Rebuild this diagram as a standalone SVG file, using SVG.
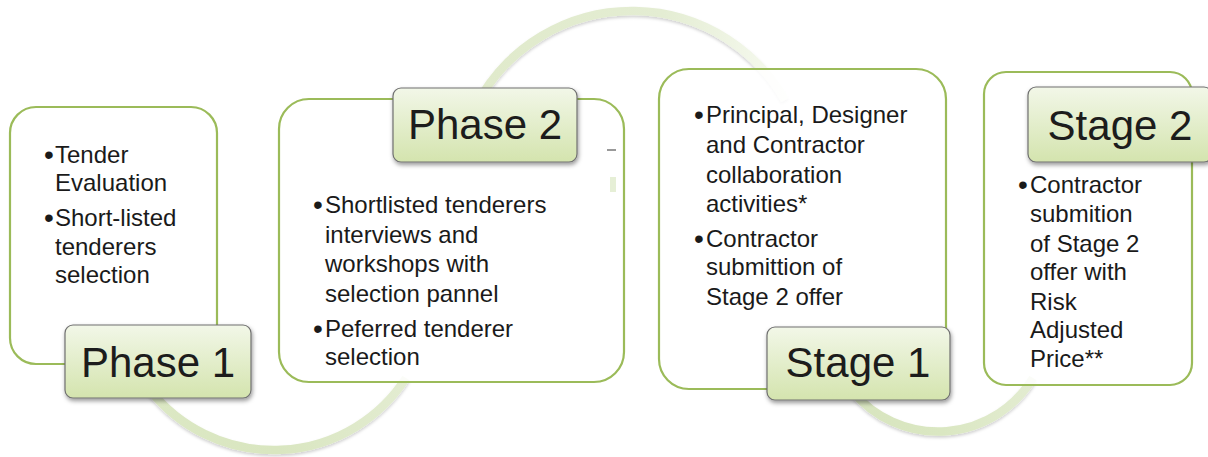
<svg xmlns="http://www.w3.org/2000/svg" width="1208" height="457" viewBox="0 0 1208 457">
<style>
.box{fill:#ffffff;fill-opacity:0.85;stroke:#9BBB59;stroke-width:2.2}
.lbl{fill:url(#lblGrad);stroke:#707070;stroke-width:1.2;filter:url(#sh)}
.head{font-family:"Liberation Sans",Arial,sans-serif;font-size:42px;fill:#1c1c1c;text-anchor:middle}
.body{font-family:"Liberation Sans",Arial,sans-serif;font-size:24px;fill:#1a1a1a}
.bul{font-family:"Liberation Sans",Arial,sans-serif;font-size:28px;fill:#1a1a1a}
.arc{fill:none;stroke-width:8.5;stroke-linecap:butt;filter:url(#ash)}
</style>
<defs>
<linearGradient id="lblGrad" x1="0" y1="0" x2="0" y2="1">
<stop offset="0" stop-color="#F2F7E8"/>
<stop offset="1" stop-color="#D4E4AE"/>
</linearGradient>
<linearGradient id="g1" gradientUnits="userSpaceOnUse" x1="150" y1="0" x2="406" y2="0">
<stop offset="0" stop-color="#DCE8C4"/>
<stop offset="0.5" stop-color="#D9E6C0"/>
<stop offset="1" stop-color="#E3ECD1"/>
</linearGradient>
<linearGradient id="g2" gradientUnits="userSpaceOnUse" x1="482" y1="0" x2="785" y2="0">
<stop offset="0" stop-color="#E0EACB"/>
<stop offset="0.6" stop-color="#E4EDD3"/>
<stop offset="1" stop-color="#F7FAF1"/>
</linearGradient>
<linearGradient id="g3" gradientUnits="userSpaceOnUse" x1="853" y1="0" x2="1033" y2="0">
<stop offset="0" stop-color="#D8E5BF"/>
<stop offset="0.5" stop-color="#DAE7C2"/>
<stop offset="1" stop-color="#E3ECD1"/>
</linearGradient>
<filter id="sh" x="-10%" y="-10%" width="125%" height="135%">
<feDropShadow dx="1" dy="2.5" stdDeviation="2" flood-color="#000" flood-opacity="0.4"/>
</filter>
<filter id="ash" x="-10%" y="-10%" width="120%" height="130%">
<feDropShadow dx="0" dy="2" stdDeviation="1.5" flood-color="#000" flood-opacity="0.18"/>
</filter>
</defs>

<g id="connectors">
<path class="arc" stroke="url(#g1)" d="M150,390 A157.5,157.5 0 0 0 406,378"/>
<path class="arc" stroke="url(#g2)" d="M482,95 A176,176 0 0 1 785,100"/>
<path class="arc" stroke="url(#g3)" d="M853,392 A111,111 0 0 0 1033,378"/>
</g>

<g id="box1">
<rect class="box" x="10" y="107" width="207" height="257" rx="26"/>
<text class="bul" x="44" y="164">•</text><text class="body" x="55" y="163">Tender</text>
<text class="body" x="55" y="191">Evaluation</text>
<text class="bul" x="44" y="227">•</text><text class="body" x="55" y="226">Short-listed</text>
<text class="body" x="55" y="255">tenderers</text>
<text class="body" x="55" y="283">selection</text>
</g>

<g id="box2">
<rect class="box" x="279" y="99" width="345" height="283" rx="30"/>
<text class="bul" x="313" y="214">•</text><text class="body" x="325" y="213">Shortlisted tenderers</text>
<text class="body" x="325" y="243">interviews and</text>
<text class="body" x="325" y="272">workshops with</text>
<text class="body" x="325" y="302">selection pannel</text>
<text class="bul" x="313" y="338">•</text><text class="body" x="325" y="337">Peferred tenderer</text>
<text class="body" x="325" y="365">selection</text>
<line x1="607" y1="150" x2="616" y2="150" stroke="#555" stroke-width="1.2"/>
<rect x="610" y="177" width="6" height="15" fill="#E6EFD6"/>
</g>

<g id="box3">
<rect class="box" x="659" y="69" width="287" height="320" rx="30"/>
<text class="bul" x="694" y="124">•</text><text class="body" x="706" y="123">Principal, Designer</text>
<text class="body" x="706" y="153">and Contractor</text>
<text class="body" x="706" y="183">collaboration</text>
<text class="body" x="706" y="212">activities*</text>
<text class="bul" x="694" y="248">•</text><text class="body" x="706" y="247">Contractor</text>
<text class="body" x="706" y="275">submittion of</text>
<text class="body" x="706" y="305">Stage 2 offer</text>
</g>

<g id="box4">
<rect class="box" x="984" y="72" width="208" height="313" rx="22"/>
<text class="bul" x="1018" y="194">•</text><text class="body" x="1030" y="193">Contractor</text>
<text class="body" x="1030" y="222">submition</text>
<text class="body" x="1030" y="252">of Stage 2</text>
<text class="body" x="1030" y="280">offer with</text>
<text class="body" x="1030" y="310">Risk</text>
<text class="body" x="1030" y="338">Adjusted</text>
<text class="body" x="1030" y="367">Price**</text>
</g>

<g id="phase1">
<rect class="lbl" x="65" y="325" width="186" height="73" rx="8"/>
<text class="head" x="158" y="377">Phase 1</text>
</g>

<g id="phase2">
<rect class="lbl" x="393" y="88" width="184" height="74" rx="8"/>
<text class="head" x="485" y="139">Phase 2</text>
</g>

<g id="stage1">
<rect class="lbl" x="767" y="327" width="183" height="73" rx="8"/>
<text class="head" x="858" y="377">Stage 1</text>
</g>

<g id="stage2">
<rect class="lbl" x="1028" y="87" width="184" height="75" rx="8"/>
<text class="head" x="1120" y="140">Stage 2</text>
</g>
</svg>
